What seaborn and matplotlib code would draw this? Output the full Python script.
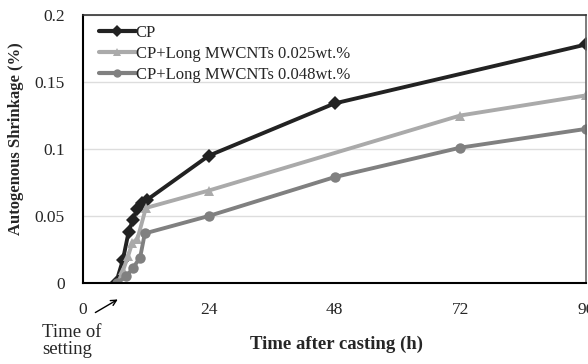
import numpy as np
import pandas as pd
import matplotlib
matplotlib.use("Agg")
import matplotlib.pyplot as plt
import seaborn as sns

# ── DATA ────────────────────────────────────────────────────────────────────
SERIES = ["CP", "CP+Long MWCNTs 0.025wt.%", "CP+Long MWCNTs 0.048wt.%"]

cp_hours = [6.3, 7.6, 8.7, 9.5, 10.3, 11.2, 12.2, 24, 48, 96]
cp_vals  = [0.0, 0.017, 0.038, 0.047, 0.055, 0.060, 0.062, 0.095, 0.134, 0.178]

c25_hours = [6.7, 7.7, 8.6, 9.4, 10.4, 12.0, 24, 72, 96]
c25_vals  = [0.0, 0.010, 0.020, 0.030, 0.033, 0.056, 0.069, 0.125, 0.140]

c48_hours = [6.5, 8.3, 9.5, 10.9, 11.8, 24, 48, 72, 96]
c48_vals  = [0.0, 0.005, 0.011, 0.019, 0.037, 0.050, 0.079, 0.101, 0.115]

x_ticks = [0, 24, 48, 72, 96]
y_ticks = [0, 0.05, 0.1, 0.15, 0.2]
y_tick_labels = ["0", "0.05", "0.1", "0.15", "0.2"]

# ── STYLE ───────────────────────────────────────────────────────────────────
sns.set_style("white")
plt.rcParams["font.family"] = ["Liberation Serif", "DejaVu Serif"]

df = pd.concat([
    pd.DataFrame({"h": cp_hours,  "v": cp_vals,  "s": SERIES[0]}),
    pd.DataFrame({"h": c25_hours, "v": c25_vals, "s": SERIES[1]}),
    pd.DataFrame({"h": c48_hours, "v": c48_vals, "s": SERIES[2]}),
])

palette = {SERIES[0]: "#222222", SERIES[1]: "#aaaaaa", SERIES[2]: "#808080"}
markers = {SERIES[0]: "D", SERIES[1]: "^", SERIES[2]: "o"}

fig = plt.figure(figsize=(5.88, 3.64), dpi=100)
ax = fig.add_axes([83 / 588, 1 - 283 / 364, 503 / 588, 268 / 364])

sns.lineplot(data=df, x="h", y="v", hue="s", style="s", hue_order=SERIES,
             palette=palette, markers=markers, dashes=False, sort=False,
             linewidth=2.8, markersize=7.5, markeredgewidth=0, ax=ax)

ax.set_xlim(0, 96)
ax.set_ylim(0, 0.2)
ax.set_xticks(x_ticks)
ax.set_yticks(y_ticks)
ax.set_yticklabels(y_tick_labels)
ax.tick_params(axis="both", direction="inout", length=6, width=1, labelsize=12.5,
               color="black")
ax.tick_params(axis="x", pad=11)
ax.tick_params(axis="y", pad=10)
ax.yaxis.grid(True, color="#dddddd", linewidth=1)
ax.set_axisbelow(True)

for side in ["left", "bottom"]:
    ax.spines[side].set_color("black")
    ax.spines[side].set_linewidth(1.5)
ax.spines["top"].set_color("#333333")
ax.spines["top"].set_linewidth(1.2)
ax.spines["right"].set_color("#666666")
ax.spines["right"].set_linewidth(1.2)

ax.set_xlabel("Time after casting (h)", fontsize=13.5, fontweight="bold")
ax.xaxis.set_label_coords((337 - 83) / 503, -0.195)
ax.set_ylabel("Autogenous Shrinkage (%)", fontsize=12, fontweight="bold")
ax.yaxis.set_label_coords(-0.117, 0.54)

leg = ax.legend(loc="upper left", frameon=False, fontsize=12, handlelength=2.2,
                handletextpad=0.0, labelspacing=0.3, borderaxespad=0.2,
                bbox_to_anchor=(0.012, 1.0))
for line in leg.get_lines():
    line.set_linewidth(3)
    line.set_markersize(6)

# time of setting annotation
ax.annotate("", xy=(7.1, -0.0112), xytext=(1.9, -0.0231),
            xycoords="data", textcoords="data",
            arrowprops=dict(arrowstyle="->", color="black", lw=1),
            annotation_clip=False)
fig.text(42 / 588, 1 - 341 / 364, "Time of\nsetting", fontsize=13.5, ha="left",
         va="center", linespacing=1.0)

fig.savefig("out.png", dpi=100)
